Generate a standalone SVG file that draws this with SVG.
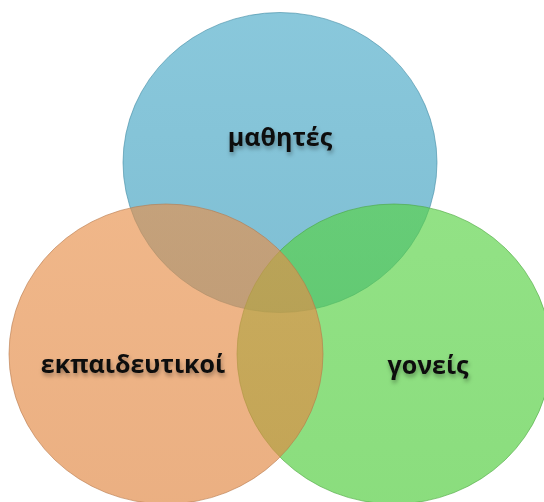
<svg xmlns="http://www.w3.org/2000/svg" width="544" height="502" viewBox="0 0 544 502">
  <defs>
    <style>
      .circ { stroke-width: 1; }
      .lbl { font-family: "Open Sans", "Noto Sans", "DejaVu Sans", sans-serif; font-weight: 700; font-size: 25px; fill: #111; text-anchor: middle; }
    </style>
    <linearGradient id="gBlue" x1="0" y1="0" x2="0" y2="1">
      <stop offset="0" stop-color="#4aaac8"/>
      <stop offset="1" stop-color="#3a9cbc"/>
    </linearGradient>
    <linearGradient id="gGreen" x1="0" y1="0" x2="0" y2="1">
      <stop offset="0" stop-color="#58d244"/>
      <stop offset="1" stop-color="#4ccb38"/>
    </linearGradient>
    <linearGradient id="gOrange" x1="0" y1="0" x2="0" y2="1">
      <stop offset="0" stop-color="#e8904a"/>
      <stop offset="1" stop-color="#e0853f"/>
    </linearGradient>
    <filter id="tshadow" x="-20%" y="-40%" width="140%" height="180%">
      <feDropShadow dx="1" dy="3" stdDeviation="2" flood-color="#000" flood-opacity="0.35"/>
    </filter>
  </defs>
  <g id="node-students">
    <ellipse class="circ" cx="280" cy="162.5" rx="157" ry="150" fill="url(#gBlue)" fill-opacity="0.65" stroke="#3f8aa3" stroke-opacity="0.6"/>
  </g>
  <g id="node-parents">
    <ellipse class="circ" cx="394" cy="354" rx="157" ry="150" fill="url(#gGreen)" fill-opacity="0.65" stroke="#4aa63c" stroke-opacity="0.6"/>
  </g>
  <g id="node-teachers">
    <ellipse class="circ" cx="166" cy="354" rx="157" ry="150" fill="url(#gOrange)" fill-opacity="0.65" stroke="#b8784a" stroke-opacity="0.6"/>
  </g>
  <g id="connectors"></g>
  <g id="labels" filter="url(#tshadow)">
    <text class="lbl" x="280" y="146">μαθητές</text>
    <text class="lbl" x="133" y="373">εκπαιδευτικοί</text>
    <text class="lbl" x="428" y="374">γονείς</text>
  </g>
</svg>
